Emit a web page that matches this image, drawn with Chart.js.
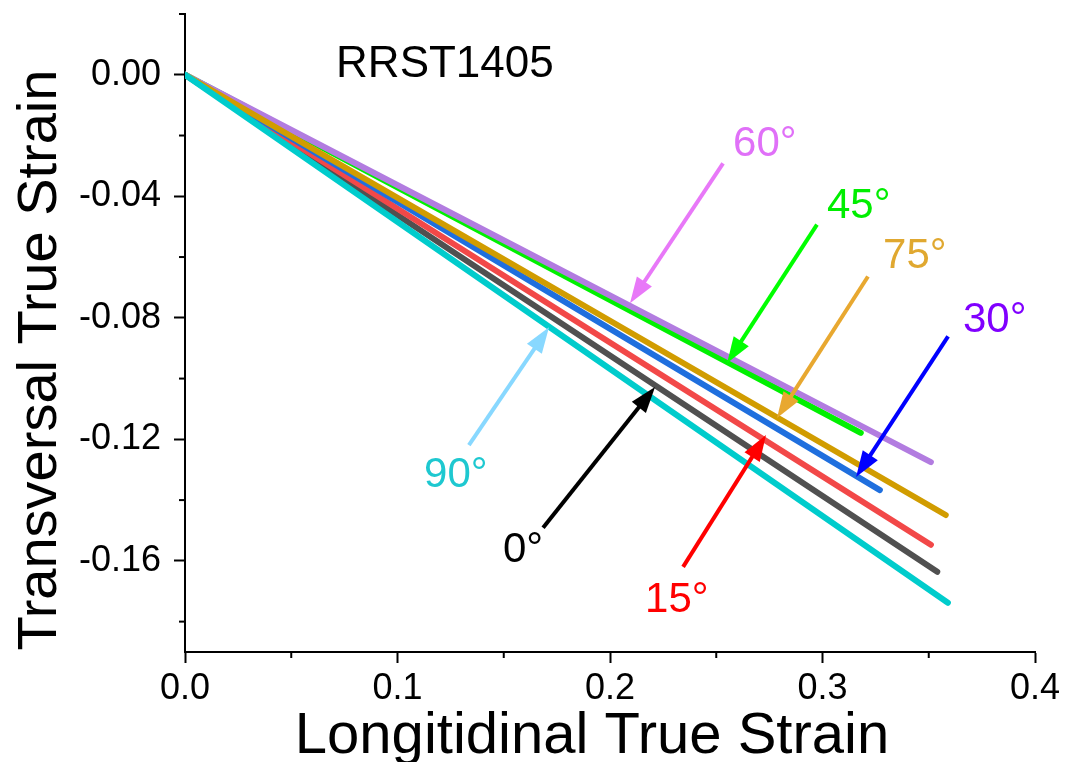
<!DOCTYPE html>
<html>
<head>
<meta charset="utf-8">
<script src="https://cdn.jsdelivr.net/npm/chart.js@4/dist/chart.umd.min.js"></script>
<style>
  html, body { margin: 0; padding: 0; background: #fff; }
  #chart { display: block; }
</style>
</head>
<body>
<canvas id="chart" width="1067" height="762"></canvas>
<script>
const FONT = '"Liberation Sans", Arial, sans-serif';

// one straight strain path per sheet orientation, from (0,0) to its end point
const angles = ['0°', '15°', '30°', '45°', '60°', '75°', '90°'];
const endStrainX = [0.354, 0.351, 0.327, 0.318, 0.351, 0.358, 0.359];
const endStrainY = [-0.1636, -0.1547, -0.1367, -0.1179, -0.1275, -0.1449, -0.1738];
const lineColors = ['#505050', '#f24848', '#1f6fde', '#00f000', '#b27ce0', '#d19c00', '#00cccc'];

const xTicks = [0, 0.1, 0.2, 0.3, 0.4];
const yTicks = [0, -0.04, -0.08, -0.12, -0.16];
const xMinorTicks = [0.05, 0.15, 0.25, 0.35];
const yMinorTicks = [0.02, -0.02, -0.06, -0.10, -0.14, -0.18];

// arrow callouts, in data units: tail, tip and label anchor (left, baseline)
const arrowFromX = [0.1685, 0.2344, 0.3591, 0.2974, 0.2532, 0.3214, 0.1336];
const arrowFromY = [-0.1491, -0.1620, -0.0861, -0.0493, -0.0292, -0.0664, -0.1219];
const arrowTipX = [0.2212, 0.2734, 0.3158, 0.2551, 0.2094, 0.2786, 0.1713];
const arrowTipY = [-0.1028, -0.1186, -0.1324, -0.0949, -0.0752, -0.1130, -0.0831];
const labelX = [0.1496, 0.2165, 0.3661, 0.3021, 0.2579, 0.3285, 0.1125];
const labelY = [-0.1603, -0.1767, -0.0848, -0.0470, -0.0266, -0.0637, -0.1357];
const arrowColors = ['#000000', '#ff0000', '#0000ff', '#00ff00', '#e878f8', '#e8a830', '#88d8ff'];
const labelColors = ['#000000', '#ff0000', '#8000ff', '#00ee00', '#e070f8', '#e0a830', '#1ec8d0'];

const sampleName = 'RRST1405';
const sampleAt = [0.0711, -0.0007];

function drawArrow(ctx, x0, y0, x1, y1, color) {
    const len = Math.hypot(x1 - x0, y1 - y0);
    const ux = (x1 - x0) / len, uy = (y1 - y0) / len;
    const head = 26, half = 9;
    const bx = x1 - ux * head, by = y1 - uy * head;
    ctx.strokeStyle = color;
    ctx.fillStyle = color;
    ctx.lineWidth = 4;
    ctx.lineCap = 'butt';
    ctx.beginPath();
    ctx.moveTo(x0, y0);
    ctx.lineTo(bx + ux * 2, by + uy * 2);
    ctx.stroke();
    ctx.beginPath();
    ctx.moveTo(x1, y1);
    ctx.lineTo(bx - uy * half, by + ux * half);
    ctx.lineTo(bx + uy * half, by - ux * half);
    ctx.closePath();
    ctx.fill();
}

const annotate = {
    id: 'annotate',
    afterDraw(chart) {
        const { ctx, chartArea } = chart;
        const x = chart.scales.x, y = chart.scales.y;
        ctx.save();

        // minor ticks
        ctx.strokeStyle = '#000';
        ctx.lineWidth = 2;
        xMinorTicks.forEach(v => {
            const px = x.getPixelForValue(v);
            ctx.beginPath();
            ctx.moveTo(px, chartArea.bottom);
            ctx.lineTo(px, chartArea.bottom + 6);
            ctx.stroke();
        });
        yMinorTicks.forEach(v => {
            const py = y.getPixelForValue(v);
            ctx.beginPath();
            ctx.moveTo(chartArea.left, py);
            ctx.lineTo(chartArea.left - 6, py);
            ctx.stroke();
        });

        // arrows and angle labels
        angles.forEach((a, i) => {
            drawArrow(ctx,
                x.getPixelForValue(arrowFromX[i]), y.getPixelForValue(arrowFromY[i]),
                x.getPixelForValue(arrowTipX[i]), y.getPixelForValue(arrowTipY[i]),
                arrowColors[i]);
            ctx.fillStyle = labelColors[i];
            ctx.font = '42px ' + FONT;
            ctx.textAlign = 'left';
            ctx.textBaseline = 'alphabetic';
            ctx.fillText(a, x.getPixelForValue(labelX[i]), y.getPixelForValue(labelY[i]));
        });

        ctx.fillStyle = '#000';
        ctx.font = '44px ' + FONT;
        ctx.fillText(sampleName, x.getPixelForValue(sampleAt[0]), y.getPixelForValue(sampleAt[1]));

        // axis titles
        ctx.font = '58px ' + FONT;
        ctx.textAlign = 'center';
        ctx.fillText('Longitidinal True Strain', 592, 753);
        ctx.font = '56px ' + FONT;
        ctx.translate(56, 360);
        ctx.rotate(-Math.PI / 2);
        ctx.fillText('Transversal True Strain', 0, 0);
        ctx.restore();
    }
};

const datasets = angles.map((a, i) => ({
    label: a,
    data: [{ x: 0, y: 0 }, { x: endStrainX[i], y: endStrainY[i] }],
    borderColor: lineColors[i],
    borderWidth: 6,
    borderCapStyle: 'round',
    pointRadius: 0,
    fill: false,
    order: angles.length - i
}));

new Chart(document.getElementById('chart'), {
    type: 'line',
    data: { datasets },
    options: {
        responsive: false,
        animation: false,
        devicePixelRatio: 1,
        layout: { padding: { top: 14, right: 32, left: 0, bottom: 0 } },
        plugins: { legend: { display: false }, tooltip: { enabled: false } },
        scales: {
            x: {
                type: 'linear',
                min: 0,
                max: 0.4,
                afterBuildTicks: s => { s.ticks = xTicks.map(v => ({ value: v })); },
                afterFit: s => { s.height = 110; s.paddingLeft = 0; s.paddingRight = 0; },
                ticks: {
                    callback: v => v.toFixed(1),
                    color: '#000',
                    padding: 4,
                    maxRotation: 0,
                    font: { family: FONT, size: 36 }
                },
                grid: { drawOnChartArea: false, tickLength: 11, tickWidth: 2, tickColor: '#000' },
                border: { color: '#000', width: 2 }
            },
            y: {
                type: 'linear',
                min: -0.19,
                max: 0.02,
                afterBuildTicks: s => { s.ticks = yTicks.map(v => ({ value: v })); },
                afterFit: s => { s.width = 185; s.paddingTop = 0; s.paddingBottom = 0; },
                ticks: {
                    callback: v => v.toFixed(2),
                    color: '#000',
                    padding: 13,
                    font: { family: FONT, size: 36 }
                },
                grid: { drawOnChartArea: false, tickLength: 11, tickWidth: 2, tickColor: '#000' },
                border: { color: '#000', width: 2 }
            }
        }
    },
    plugins: [annotate]
});
</script>
</body>
</html>
